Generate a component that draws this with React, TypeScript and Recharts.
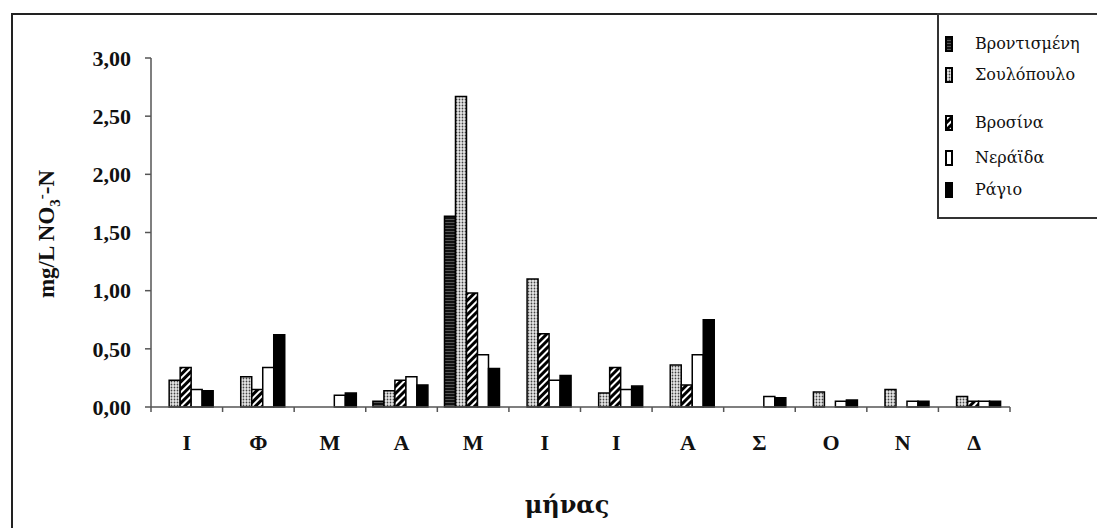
import React from "react";
import { BarChart, Bar, XAxis, YAxis } from "recharts";

// months (Greek initials)
const months = ["Ι", "Φ", "Μ", "Α", "Μ", "Ι", "Ι", "Α", "Σ", "Ο", "Ν", "Δ"];

// mg/L NO3--N per station
const vrontismeni = [0, 0, 0, 0.05, 1.64, 0, 0, 0, 0, 0, 0, 0];
const soulopoulo = [0.23, 0.26, 0, 0.14, 2.67, 1.1, 0.12, 0.36, 0, 0.13, 0.15, 0.09];
const vrosina = [0.34, 0.15, 0, 0.23, 0.98, 0.63, 0.34, 0.19, 0, 0, 0, 0.05];
const neraida = [0.15, 0.34, 0.1, 0.26, 0.45, 0.23, 0.15, 0.45, 0.09, 0.05, 0.05, 0.05];
const ragio = [0.14, 0.62, 0.12, 0.19, 0.33, 0.27, 0.18, 0.75, 0.08, 0.06, 0.05, 0.05];

const yTicks = [0, 0.5, 1, 1.5, 2, 2.5, 3];

const series = [
    { key: "vrontismeni", name: "Βροντισμένη", fill: "url(#pVront)" },
    { key: "soulopoulo", name: "Σουλόπουλο", fill: "url(#pSoul)" },
    { key: "vrosina", name: "Βροσίνα", fill: "url(#pVros)" },
    { key: "neraida", name: "Νεράϊδα", fill: "#ffffff" },
    { key: "ragio", name: "Ράγιο", fill: "#000000" },
];

const data = months.map((m, i) => ({
    month: m,
    vrontismeni: vrontismeni[i],
    soulopoulo: soulopoulo[i],
    vrosina: vrosina[i],
    neraida: neraida[i],
    ragio: ragio[i],
}));

const FONT = '"Liberation Serif", "DejaVu Serif", "Times New Roman", serif';
const GREEK_FONT = '"DejaVu Serif", serif';
const W = 1097;
const H = 520;
const PLOT_LEFT = 143;
const PLOT_RIGHT = 1002;
const PLOT_TOP = 50;
const PLOT_BOTTOM = 399;
const BAND = (PLOT_RIGHT - PLOT_LEFT) / months.length;

// legend rows, offset from the legend box top
const legendRows = [29, 60, 108, 143, 175];

const MonthTick = (props: any) => {
    const { x, payload, index } = props;
    const left = x - BAND / 2;
    return (
        <g>
            <line x1={left} y1={PLOT_BOTTOM} x2={left} y2={PLOT_BOTTOM + 5} stroke="#555" strokeWidth={1.5} />
            {index === months.length - 1 && (
                <line x1={x + BAND / 2} y1={PLOT_BOTTOM} x2={x + BAND / 2} y2={PLOT_BOTTOM + 5} stroke="#555" strokeWidth={1.5} />
            )}
            <text x={x} y={PLOT_BOTTOM + 43} textAnchor="middle" fontFamily={FONT} fontWeight="bold" fontSize={22} fill="#111">
                {payload.value}
            </text>
        </g>
    );
};

const YTitle = () => (
    <text
        transform={`translate(46, 226) rotate(-90)`}
        textAnchor="middle"
        fontFamily={FONT}
        fontWeight="bold"
        fontSize={23}
        fill="#111"
    >
        mg/L NO
        <tspan fontSize={15} dy={6}>3</tspan>
        <tspan fontSize={15} dy={-14}>-</tspan>
        <tspan dy={8}>-N</tspan>
    </text>
);

function LegendBox() {
    return (
        <div
            style={{
                position: "absolute",
                left: 929,
                top: 5,
                width: 200,
                height: 202,
                border: "2px solid #333",
                background: "#fff",
                fontFamily: GREEK_FONT,
                fontSize: 16,
                color: "#111",
            }}
        >
            {series.map((s, i) => (
                <div key={s.key} style={{ position: "absolute", left: 6, top: legendRows[i] - 11, height: 22, display: "flex", alignItems: "center" }}>
                    <svg width={8} height={16} style={{ display: "block" }}>
                        <rect x={1} y={1} width={6} height={14} fill={s.fill} stroke="#000" strokeWidth={2} />
                    </svg>
                    <span style={{ marginLeft: 22, lineHeight: "22px" }}>{s.name}</span>
                </div>
            ))}
        </div>
    );
}

export default function App() {
    return (
        <div style={{ position: "relative", width: W, height: H, overflow: "hidden", background: "#fff" }}>
            <div
                style={{
                    position: "absolute",
                    left: 3,
                    top: 5,
                    width: 1300,
                    height: 700,
                    border: "2px solid #222",
                }}
            />
            <div style={{ position: "absolute", left: 0, top: 0 }}>
                <BarChart
                    width={W}
                    height={H}
                    data={data}
                    margin={{ top: PLOT_TOP, right: W - PLOT_RIGHT, left: 0, bottom: H - PLOT_BOTTOM - 30 }}
                    barCategoryGap="10%"
                    barGap={0}
                >
                    <defs>
                        <pattern id="pVront" width={4} height={3} patternUnits="userSpaceOnUse">
                            <rect width={4} height={3} fill="#111" />
                            <line x1={0} y1={1.5} x2={4} y2={1.5} stroke="#666" strokeWidth={0.8} />
                        </pattern>
                        <pattern id="pSoul" width={3} height={3} patternUnits="userSpaceOnUse">
                            <rect width={3} height={3} fill="#e8e8e8" />
                            <circle cx={1.5} cy={1.5} r={0.9} fill="#444" />
                        </pattern>
                        <pattern id="pVros" width={5} height={5} patternUnits="userSpaceOnUse" patternTransform="rotate(45)">
                            <rect width={5} height={5} fill="#fff" />
                            <line x1={1.5} y1={0} x2={1.5} y2={5} stroke="#000" strokeWidth={3} />
                        </pattern>
                    </defs>
                    <XAxis
                        dataKey="month"
                        interval={0}
                        height={30}
                        tickLine={false}
                        axisLine={{ stroke: "#555", strokeWidth: 1.5 }}
                        tick={<MonthTick />}
                    />
                    <XAxis xAxisId="top" orientation="top" height={0} tick={false} tickLine={false} axisLine={{ stroke: "#777", strokeWidth: 1.5 }} />
                    <YAxis
                        domain={[0, 3]}
                        ticks={yTicks}
                        width={PLOT_LEFT}
                        interval={0}
                        tickSize={6}
                        tickMargin={14}
                        tickLine={{ stroke: "#555", strokeWidth: 1.5 }}
                        axisLine={{ stroke: "#555", strokeWidth: 1.5 }}
                        tick={{ fontFamily: FONT, fontWeight: "bold", fontSize: 22, fill: "#111" }}
                        tickFormatter={(v: number) => v.toFixed(2).replace(".", ",")}
                        label={<YTitle />}
                    />
                    <YAxis yAxisId="right" orientation="right" width={0} tick={false} tickLine={false} axisLine={{ stroke: "#777", strokeWidth: 1.5 }} />
                    {series.map((s) => (
                        <Bar
                            key={s.key}
                            dataKey={s.key}
                            name={s.name}
                            fill={s.fill}
                            stroke="#000"
                            strokeWidth={1.5}
                            isAnimationActive={false}
                        />
                    ))}
                    <text x={559} y={H - 15} textAnchor="middle" fontFamily={GREEK_FONT} fontWeight="bold" fontSize={24} fill="#111">
                        μήνας
                    </text>
                </BarChart>
            </div>
            <LegendBox />
        </div>
    );
}
